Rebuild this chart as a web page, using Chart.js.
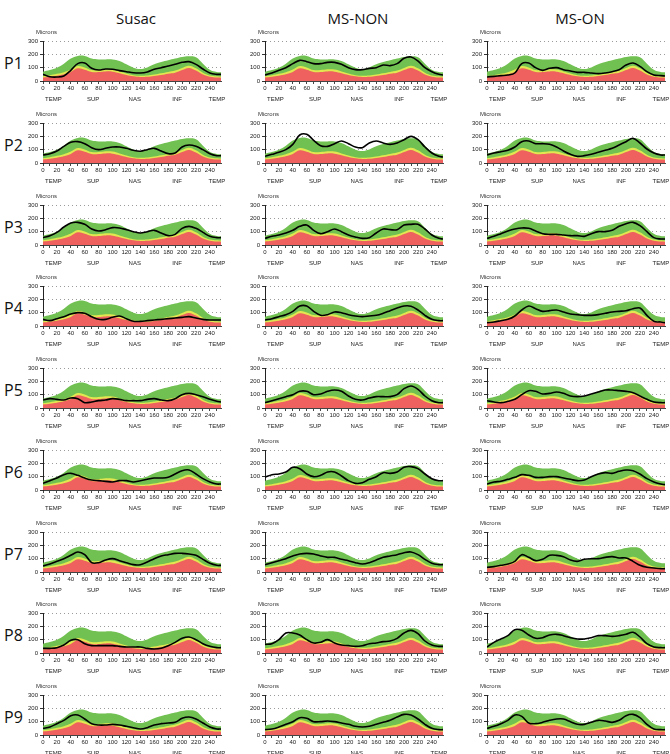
<!DOCTYPE html>
<html>
<head>
<meta charset="utf-8">
<script src="https://cdn.jsdelivr.net/npm/chart.js@4.4.1/dist/chart.umd.min.js"></script>
<style>
  body { margin: 0; background: #fff; width: 670px; height: 754px; position: relative; overflow: hidden; }
  .colTitle { position: absolute; top: 8px; width: 200px; text-align: center; font: 15px "Open Sans", sans-serif; color: #111; }
  .rowLabel { position: absolute; left: 4px; font: 16px "Open Sans", sans-serif; color: #111; }
  canvas { position: absolute; }
</style>
</head>
<body>
<script>
// === DATA ===
const xPos = [0, 10, 20, 30, 40, 50, 60, 70, 80, 90, 100, 110, 120, 130, 140, 150, 160, 170, 180, 190, 200, 210, 220, 230, 240, 250, 256];
const xTicks = [0, 20, 40, 60, 80, 100, 120, 140, 160, 180, 200, 220, 240];
const yTicks = [0, 100, 200, 300];
const regionLabels = ["TEMP", "SUP", "NAS", "INF", "TEMP"];
const regionPos = [15, 72, 132, 193, 250];
const columns = ["Susac", "MS-NON", "MS-ON"];
const rows = ["P1", "P2", "P3", "P4", "P5", "P6", "P7", "P8", "P9"];

// normative bands (same in every panel)
const redTop    = [26, 32, 40, 50, 68, 95, 85, 68, 68, 72, 70, 58, 45, 35, 30, 32, 38, 45, 55, 62, 82, 98, 78, 48, 32, 26, 25];
const yellowTop = [36, 44, 54, 66, 86, 112, 102, 82, 82, 88, 86, 72, 56, 44, 40, 42, 48, 58, 68, 78, 98, 115, 95, 62, 42, 36, 34];
const greenTop  = [70, 82, 100, 130, 168, 188, 188, 168, 162, 162, 162, 150, 125, 100, 90, 102, 125, 142, 155, 168, 180, 185, 178, 130, 85, 68, 65];

// patient thickness profiles
const p1Susac = [50, 32, 30, 38, 80, 130, 135, 95, 82, 90, 88, 78, 70, 62, 60, 68, 88, 100, 112, 125, 140, 145, 125, 90, 60, 50, 50];
const p1Non   = [45, 60, 80, 100, 130, 155, 145, 130, 130, 140, 140, 125, 100, 85, 85, 95, 100, 120, 115, 130, 170, 180, 150, 100, 70, 50, 45];
const p1On    = [30, 35, 40, 45, 60, 130, 135, 100, 80, 95, 100, 85, 75, 65, 65, 60, 55, 60, 70, 85, 120, 135, 110, 70, 45, 40, 38];
const p2Susac = [60, 70, 90, 125, 155, 160, 145, 115, 100, 110, 120, 120, 110, 95, 88, 100, 110, 90, 70, 75, 120, 135, 125, 100, 70, 55, 55];
const p2Non   = [50, 65, 80, 100, 140, 210, 215, 170, 130, 125, 145, 165, 145, 120, 115, 150, 165, 150, 140, 150, 175, 200, 175, 120, 75, 50, 45];
const p2On    = [60, 75, 85, 95, 120, 160, 165, 145, 145, 140, 120, 90, 65, 50, 55, 65, 80, 95, 110, 135, 160, 185, 150, 105, 75, 60, 60];
const p3Susac = [55, 70, 95, 135, 165, 170, 155, 120, 105, 115, 130, 128, 115, 100, 90, 100, 110, 90, 70, 80, 125, 140, 125, 95, 65, 55, 55];
const p3Non   = [50, 65, 75, 90, 110, 140, 150, 110, 85, 100, 120, 100, 75, 60, 50, 55, 90, 120, 115, 115, 150, 155, 155, 120, 75, 50, 45];
const p3On    = [50, 65, 85, 105, 120, 128, 125, 105, 85, 80, 80, 75, 70, 70, 65, 85, 100, 100, 110, 140, 160, 170, 145, 100, 55, 45, 45];
const p4Susac = [50, 40, 55, 70, 90, 100, 95, 70, 50, 50, 65, 75, 55, 35, 35, 40, 45, 50, 55, 60, 65, 70, 60, 50, 45, 45, 45];
const p4Non   = [45, 55, 70, 85, 110, 150, 150, 110, 80, 85, 105, 100, 85, 75, 70, 75, 80, 95, 115, 135, 150, 148, 120, 80, 50, 40, 40];
const p4On    = [25, 30, 40, 50, 75, 120, 150, 130, 110, 115, 120, 105, 90, 85, 80, 80, 85, 95, 105, 110, 115, 130, 135, 80, 35, 30, 25];
const p5Susac = [60, 70, 65, 60, 75, 70, 40, 45, 55, 60, 70, 65, 55, 55, 55, 65, 70, 60, 55, 70, 100, 110, 100, 85, 65, 50, 45];
const p5Non   = [40, 55, 70, 85, 100, 125, 125, 100, 105, 125, 135, 125, 90, 65, 60, 75, 85, 85, 85, 100, 145, 165, 140, 90, 55, 40, 40];
const p5On    = [55, 45, 40, 50, 65, 100, 130, 125, 105, 110, 120, 110, 90, 85, 90, 105, 120, 135, 135, 130, 125, 115, 90, 65, 45, 40, 40];
const p6Susac = [50, 70, 90, 115, 125, 110, 90, 75, 70, 65, 60, 70, 70, 60, 70, 80, 90, 90, 95, 120, 145, 150, 120, 85, 60, 45, 45];
const p6Non   = [95, 115, 120, 135, 170, 160, 120, 100, 110, 135, 135, 105, 70, 50, 55, 80, 100, 130, 125, 135, 170, 175, 160, 120, 85, 70, 70];
const p6On    = [45, 60, 65, 80, 95, 115, 110, 95, 95, 100, 100, 90, 80, 70, 75, 100, 120, 130, 125, 140, 150, 145, 120, 85, 60, 45, 40];
const p7Susac = [45, 60, 80, 100, 125, 150, 130, 70, 70, 90, 100, 85, 70, 55, 55, 75, 100, 120, 130, 140, 140, 135, 125, 95, 65, 50, 50];
const p7Non   = [55, 70, 85, 100, 120, 135, 140, 135, 120, 110, 110, 95, 85, 70, 60, 70, 90, 110, 120, 130, 145, 150, 130, 95, 65, 55, 55];
const p7On    = [35, 40, 50, 60, 80, 130, 110, 85, 95, 125, 125, 115, 90, 80, 95, 100, 100, 110, 115, 105, 105, 80, 50, 35, 30, 25, 25];
const p8Susac = [35, 35, 40, 60, 95, 100, 70, 55, 55, 55, 55, 50, 45, 45, 45, 35, 30, 35, 55, 80, 110, 120, 100, 70, 50, 40, 40];
const p8Non   = [65, 70, 100, 150, 150, 135, 100, 75, 80, 100, 75, 60, 55, 50, 55, 70, 75, 85, 90, 110, 150, 170, 145, 90, 60, 50, 50];
const p8On    = [45, 80, 105, 130, 175, 170, 135, 110, 115, 135, 140, 130, 115, 105, 105, 115, 130, 130, 125, 130, 140, 155, 120, 70, 45, 40, 40];
const p9Susac = [50, 60, 85, 110, 145, 150, 120, 85, 75, 75, 80, 75, 65, 55, 45, 55, 75, 85, 90, 95, 125, 135, 120, 90, 60, 45, 45];
const p9Non   = [40, 45, 60, 80, 100, 130, 125, 100, 100, 105, 100, 90, 80, 65, 60, 65, 80, 95, 110, 135, 155, 150, 120, 80, 50, 40, 40];
const p9On    = [50, 65, 85, 110, 150, 140, 90, 85, 95, 110, 120, 120, 100, 80, 80, 95, 110, 105, 95, 110, 145, 155, 130, 80, 45, 40, 40];

const panels = [
  [p1Susac, p1Non, p1On],
  [p2Susac, p2Non, p2On],
  [p3Susac, p3Non, p3On],
  [p4Susac, p4Non, p4On],
  [p5Susac, p5Non, p5On],
  [p6Susac, p6Non, p6On],
  [p7Susac, p7Non, p7On],
  [p8Susac, p8Non, p8On],
  [p9Susac, p9Non, p9On]
];

// === LAYOUT ===
const colLeft = [13, 235, 457];
const rowTop0 = 26, rowStep = 81.75;
const canvasW = 215, canvasH = 80;
const tickFont = { family: "Liberation Sans", size: 6 };

function toPoints(values) {
  return values.map((v, i) => ({ x: xPos[i], y: v }));
}

// "Microns" label above the y axis, region names under the x axis
const panelText = {
  id: "panelText",
  afterDraw(chart) {
    const { ctx, chartArea, scales } = chart;
    ctx.save();
    ctx.font = "6px 'Liberation Sans'";
    ctx.fillStyle = "#333";
    ctx.textBaseline = "alphabetic";
    ctx.textAlign = "left";
    ctx.fillText("Microns", chartArea.left - 7, chartArea.top - 7);
    ctx.textAlign = "center";
    ctx.textBaseline = "middle";
    ctx.fillStyle = "#222";
    regionLabels.forEach((lbl, i) => {
      ctx.fillText(lbl, scales.x.getPixelForValue(regionPos[i]), chartArea.bottom + 18);
    });
    ctx.restore();
  }
};

function makePanel(values, left, top) {
  const canvas = document.createElement("canvas");
  canvas.width = canvasW;
  canvas.height = canvasH;
  canvas.style.left = left + "px";
  canvas.style.top = top + "px";
  canvas.style.width = canvasW + "px";
  canvas.style.height = canvasH + "px";
  document.body.appendChild(canvas);

  new Chart(canvas.getContext("2d"), {
    type: "line",
    data: {
      datasets: [
        { data: toPoints(values), borderColor: "#000", borderWidth: 1.6, pointRadius: 0, tension: 0.35, fill: false },
        { data: toPoints(redTop), borderWidth: 0, borderColor: "rgba(0,0,0,0)", backgroundColor: "#ee615e", pointRadius: 0, tension: 0.4, fill: "origin" },
        { data: toPoints(yellowTop), borderWidth: 0, borderColor: "rgba(0,0,0,0)", backgroundColor: "#e2e650", pointRadius: 0, tension: 0.4, fill: "origin" },
        { data: toPoints(greenTop), borderWidth: 0, borderColor: "rgba(0,0,0,0)", backgroundColor: "#71c152", pointRadius: 0, tension: 0.4, fill: "origin" }
      ]
    },
    options: {
      responsive: false,
      animation: false,
      devicePixelRatio: 1,
      layout: { padding: { top: 15, right: 7, left: 0, bottom: 0 } },
      plugins: { legend: { display: false }, tooltip: { enabled: false } },
      scales: {
        x: {
          type: "linear", min: 0, max: 256,
          afterFit: (s) => { s.height = 25; },
          grid: { drawOnChartArea: false, tickLength: 3, color: "#444" },
          border: { color: "#444" },
          ticks: {
            stepSize: 10, includeBounds: false, autoSkip: false, maxRotation: 0, padding: 1,
            font: tickFont, color: "#222",
            callback: (v) => (xTicks.includes(v) ? String(v) : "")
          }
        },
        y: {
          min: 0, max: 300,
          afterFit: (s) => { s.width = 30; },
          grid: {
            color: (c) => (c.tick && c.tick.value > 0 && c.tick.value % 100 === 0 ? "#9a9a9a" : "rgba(0,0,0,0)"),
            tickColor: "#333",
            tickBorderDash: [],
            tickLength: 3
          },
          border: { color: "#222", dash: [1, 3] },
          ticks: {
            stepSize: 50, padding: 2, font: tickFont, color: "#222",
            callback: (v) => (yTicks.includes(v) ? String(v) : "")
          }
        }
      }
    },
    plugins: [panelText]
  });
}

// column titles
columns.forEach((name, c) => {
  const d = document.createElement("div");
  d.className = "colTitle";
  d.textContent = name;
  d.style.left = (colLeft[c] + 123 - 100) + "px";
  document.body.appendChild(d);
});

// rows
rows.forEach((name, r) => {
  const top = rowTop0 + rowStep * r;
  const lbl = document.createElement("div");
  lbl.className = "rowLabel";
  lbl.textContent = name;
  lbl.style.top = (top + 26) + "px";
  document.body.appendChild(lbl);
  panels[r].forEach((values, c) => makePanel(values, colLeft[c], top));
});
</script>
</body>
</html>
